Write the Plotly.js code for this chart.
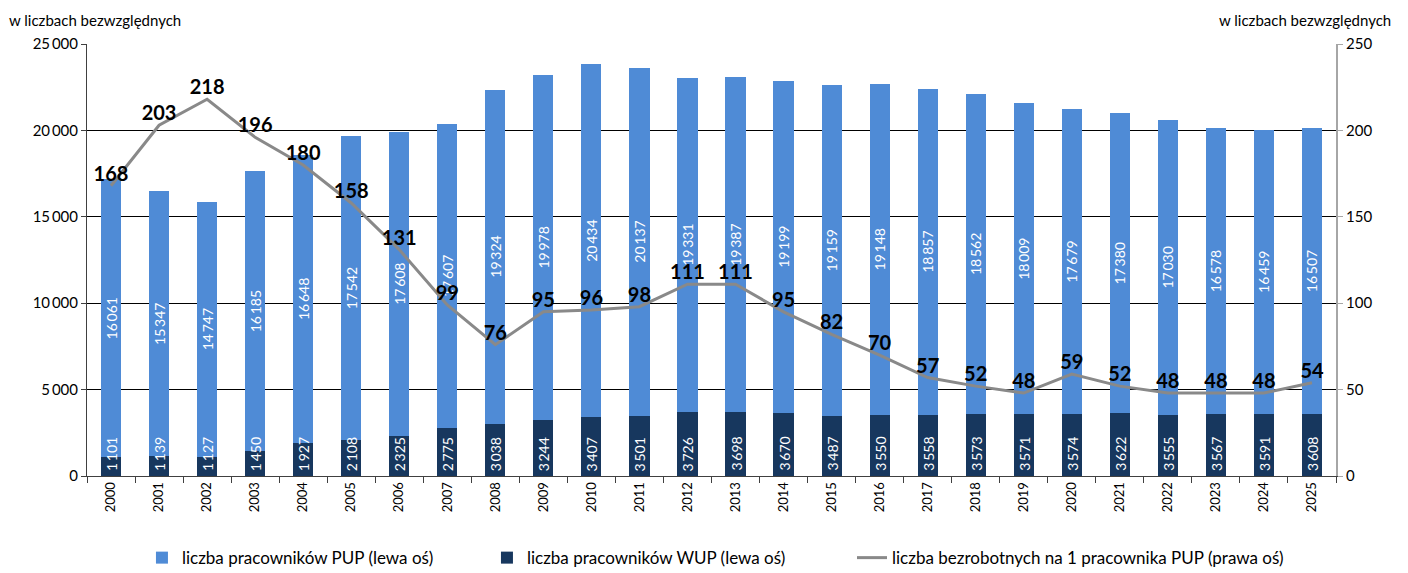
<!DOCTYPE html>
<html><head><meta charset="utf-8">
<script src="https://cdn.plot.ly/plotly-3.0.1.min.js"></script>
<style>html,body{margin:0;padding:0;background:#fff}#chart{width:1408px;height:573px}</style>
</head><body><div id="chart"></div>
<script>
const years = ['2000','2001','2002','2003','2004','2005','2006','2007','2008','2009','2010','2011','2012','2013','2014','2015','2016','2017','2018','2019','2020','2021','2022','2023','2024','2025'];
const wup = [1101,1139,1127,1450,1927,2108,2325,2775,3038,3244,3407,3501,3726,3698,3670,3487,3550,3558,3573,3571,3574,3622,3555,3567,3591,3608];
const pup = [16061,15347,14747,16185,16648,17542,17608,17607,19324,19978,20434,20137,19331,19387,19199,19159,19148,18857,18562,18009,17679,17380,17030,16578,16459,16507];
const perWorker = [168,203,218,196,180,158,131,99,76,95,96,98,111,111,95,82,70,57,52,48,59,52,48,48,48,54];
const leftTickVals = [0,5000,10000,15000,20000,25000];
const leftTickText = ['0','5\u2009000','10\u2009000','15\u2009000','20\u2009000','25\u2009000'];
const rightTickVals = [0,50,100,150,200,250];
const axisNote = 'w liczbach bezwzględnych';
const names = ['liczba pracowników PUP (lewa oś)','liczba pracowników WUP (lewa oś)','liczba bezrobotnych na 1 pracownika PUP (prawa oś)'];

const fmt = v => { const s = String(v); return s.length > 3 ? s.slice(0, s.length-3) + '\u2009' + s.slice(-3) : s; };
const FONT = 'Lato, "Open Sans", sans-serif';

const traces = [
  {type:'bar', name:names[1], x:years, y:wup, marker:{color:'#17375E'}, width:0.42,
   hoverinfo:'none', legendrank:2, legend:'legend'},
  {type:'bar', name:names[0], x:years, y:pup, marker:{color:'#4F8BD6'}, width:0.42,
   text:pup.map(fmt), textposition:'inside', insidetextanchor:'middle', textangle:-90, constraintext:'none',
   textfont:{color:'#ffffff', size:14, family:FONT}, hoverinfo:'none', legendrank:1, legend:'legend'},
  {type:'scatter', mode:'lines+text', name:names[2], x:years, y:perWorker, yaxis:'y2',
   line:{color:'#898989', width:3}, text:perWorker.map(String), textposition:'top center',
   textfont:{color:'#000000', size:20, family:FONT, weight:'bold'}, cliponaxis:false, hoverinfo:'none', legend:'legend2'}
];

const wupLabels = years.map((yr, i) => ({
  text: fmt(wup[i]), x: i, y: 0, xref:'x', yref:'y', textangle:-90, xanchor:'center', yanchor:'bottom',
  yshift: 3, showarrow:false, font:{color:'#ffffff', size:14, family:FONT}
}));

const legendBase = {orientation:'h', yanchor:'middle', y:-0.19, traceorder:'normal',
  font:{size:17, family:FONT}, itemwidth:30, bgcolor:'rgba(0,0,0,0)'};

const layout = {
  width:1408, height:573,
  margin:{l:87, r:72, t:44, b:97, autoexpand:false},
  barmode:'stack',
  paper_bgcolor:'#ffffff', plot_bgcolor:'#ffffff',
  font:{family:FONT, color:'#000000', size:14},
  xaxis:{type:'category', range:[-0.5, 25.5], autorange:false, tickangle:-90, showline:true, linecolor:'#404040', linewidth:1,
    ticks:'outside', tickson:'boundaries', ticklen:6, tickcolor:'#404040', showgrid:false, automargin:false,
    tickfont:{size:13, family:FONT, color:'#000'}},
  yaxis:{range:[0,25000], tickvals:leftTickVals, ticktext:leftTickText, showline:true, linecolor:'#404040',
    ticks:'outside', ticklen:5, tickcolor:'#404040', showgrid:true, gridcolor:'#000000', gridwidth:1, automargin:false,
    zeroline:false, tickfont:{size:15, family:FONT}},
  yaxis2:{range:[0,250], tickvals:rightTickVals, overlaying:'y', side:'right', showline:true, linecolor:'#A6A6A6',
    linewidth:2, ticks:'outside', ticklen:5, tickcolor:'#A6A6A6', showgrid:false, zeroline:false, automargin:false,
    tickfont:{size:15, family:FONT}},
  legend:Object.assign({}, legendBase, {x:0.044, xanchor:'left', entrywidth:300}),
  legend2:Object.assign({}, legendBase, {x:0.6125, xanchor:'left'}),
  annotations:[
    {text:axisNote, xref:'paper', yref:'paper', x:-0.064, y:1.03, xanchor:'left', yanchor:'bottom', showarrow:false, font:{size:15, family:FONT}},
    {text:axisNote, xref:'paper', yref:'paper', x:1.046, y:1.03, xanchor:'right', yanchor:'bottom', showarrow:false, font:{size:15, family:FONT}}
  ].concat(wupLabels)
};
Plotly.newPlot('chart', traces, layout, {displayModeBar:false, staticPlot:true});
</script></body></html>
